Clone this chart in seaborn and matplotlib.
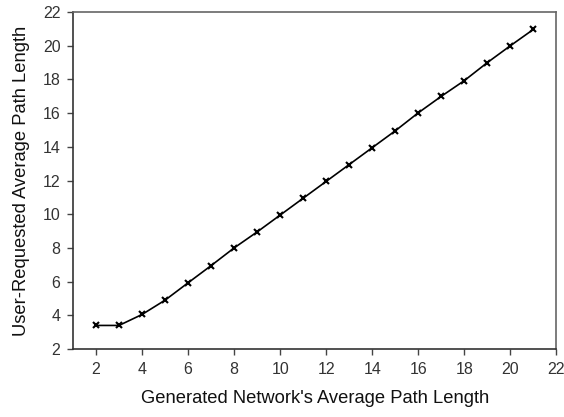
import matplotlib
matplotlib.use("Agg")
import matplotlib.pyplot as plt
import seaborn as sns
import pandas as pd

generated = [2, 3, 4, 5, 6, 7, 8, 9, 10, 11, 12, 13, 14, 15, 16, 17, 18, 19, 20, 21]
requested = [3.4, 3.4, 4.05, 4.9, 5.93, 6.95, 8.0, 8.95, 9.95, 10.95, 11.95, 12.95,
             13.95, 14.95, 16.02, 17.0, 17.93, 19.0, 20.0, 20.97]
x_ticks = [2, 4, 6, 8, 10, 12, 14, 16, 18, 20, 22]
y_ticks = [2, 4, 6, 8, 10, 12, 14, 16, 18, 20, 22]

sns.set_style("ticks")
plt.rcParams['font.family'] = ['Liberation Sans', 'DejaVu Sans']

df = pd.DataFrame({"gen": generated, "req": requested})

fig = plt.figure(figsize=(5.64, 4.17), dpi=100)
ax = fig.add_axes([0.1294, 0.163, 0.857, 0.808])
sns.lineplot(data=df, x="gen", y="req", ax=ax, color="black", linewidth=1.2,
             marker="x", markersize=4, markeredgewidth=1.5, markeredgecolor="black")

ax.set_xlim(1, 22)
ax.set_ylim(2, 22)
ax.set_xticks(x_ticks)
ax.set_yticks(y_ticks)
ax.tick_params(direction="out", length=4, width=1, colors="#444444", labelsize=11.5,
               labelcolor="#333333", pad=5)
ax.set_xlabel("Generated Network's Average Path Length", fontsize=13.2, labelpad=10,
              color="#111111")
ax.set_ylabel("User-Requested Average Path Length", fontsize=13.2, labelpad=9,
              color="#111111")
for s in ["left", "bottom"]:
    ax.spines[s].set_color("#333333")
    ax.spines[s].set_linewidth(1.2)
for s in ["top", "right"]:
    ax.spines[s].set_visible(True)
    ax.spines[s].set_color("#666666")
    ax.spines[s].set_linewidth(1.2)

fig.savefig("out.png", dpi=100)
